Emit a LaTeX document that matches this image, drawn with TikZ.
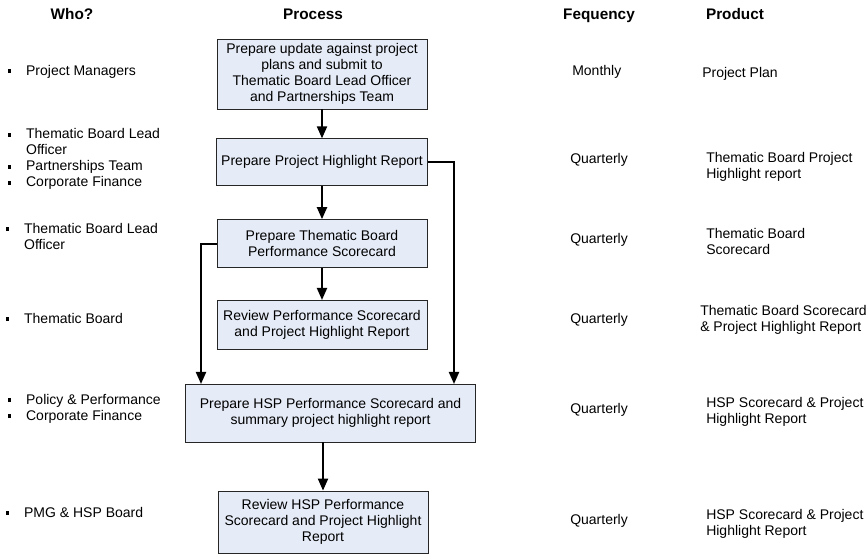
\documentclass[tikz,border=0pt]{standalone}
\usepackage{fontspec}
\setmainfont{Liberation Sans}
\usepackage{tikz}
\usetikzlibrary{arrows.meta,positioning}
\definecolor{boxfill}{RGB}{230,236,247}
\newcommand\blt{\raisebox{1.6pt}{\rule{2.4pt}{2.8pt}}}
\tikzset{
    %Define standard arrow tip
    >={Triangle[length=9pt,width=7.5pt]},
    %Define style for process boxes
    proc/.style={
           rectangle,
           draw=black!85, line width=0.6pt,
           fill=boxfill,
           minimum width=157.5pt,
           align=center,
           font=\fontsize{10.5}{12}\selectfont},
    % Define style for column texts
    hdr/.style={anchor=base, font=\fontsize{11.5}{14}\selectfont\bfseries},
    who/.style={anchor=west, inner sep=0pt, font=\fontsize{10.5}{12}\selectfont},
    freq/.style={anchor=west, inner sep=0pt, font=\fontsize{10.5}{12}\selectfont},
    prod/.style={anchor=west, inner sep=0pt, align=left, font=\fontsize{10.5}{12}\selectfont},
    % Define arrow style
    pil/.style={
           ->,
           line width=1.5pt}
}
\begin{document}
\begin{tikzpicture}[x=0.75pt,y=-0.75pt]
         \useasboundingbox (0,0) rectangle (868,555);
         %headers
          \node[hdr] (hwho) at (72,19.5) {Who?};
          \node[hdr] (hproc) at (313,19.5) {Process};
          \node[hdr] (hfreq) at (599,19.5) {Fequency};
          \node[hdr] (hprod) at (735,19.5) {Product};
         %process boxes
          \node[proc, minimum height=51pt] (update) at (322,74)
          {Prepare update against project\\plans and submit to\\Thematic Board Lead Officer\\and Partnerships Team};
          \node[proc, minimum height=35.25pt, below=21.75pt of update] (highlight)
          {Prepare Project Highlight Report};
          \node[proc, minimum height=36pt, below=24.75pt of highlight] (tbscore)
          {Prepare Thematic Board\\Performance Scorecard};
          \node[proc, minimum height=36.75pt, below=24pt of tbscore] (review)
          {Review Performance Scorecard\\and Project Highlight Report};
          \node[proc, minimum width=218pt, minimum height=43.5pt] (hspscore) at (330.5,413)
          {Prepare HSP Performance Scorecard and\\summary project highlight report};
          \node[proc, minimum height=46.5pt] (hspreview) at (323,522)
          {Review HSP Performance\\Scorecard and Project Highlight\\Report};
         %who
          \node[who] (w1) at (8,72) {\begin{tabular}{@{}l@{\hspace{11pt}}l@{}}\blt & Project Managers\end{tabular}};
          \node[who] (w2) at (8,159.5) {\begin{tabular}{@{}l@{\hspace{11pt}}l@{}}\blt & Thematic Board Lead\\ & Officer\\ \blt & Partnerships Team\\ \blt & Corporate Finance\end{tabular}};
          \node[who] (w3) at (6,238) {\begin{tabular}{@{}l@{\hspace{11pt}}l@{}}\blt & Thematic Board Lead\\ & Officer\end{tabular}};
          \node[who] (w4) at (6,320) {\begin{tabular}{@{}l@{\hspace{11pt}}l@{}}\blt & Thematic Board\end{tabular}};
          \node[who] (w5) at (8,409) {\begin{tabular}{@{}l@{\hspace{11pt}}l@{}}\blt & Policy \& Performance\\ \blt & Corporate Finance\end{tabular}};
          \node[who] (w6) at (6,514) {\begin{tabular}{@{}l@{\hspace{11pt}}l@{}}\blt & PMG \& HSP Board\end{tabular}};
         %frequency
          \node[freq] (f1) at (572,72) {Monthly};
          \node[freq] (f2) at (570,160) {Quarterly};
          \node[freq] (f3) at (570,240) {Quarterly};
          \node[freq] (f4) at (570,320) {Quarterly};
          \node[freq] (f5) at (570,410) {Quarterly};
          \node[freq] (f6) at (570,521) {Quarterly};
         %product
          \node[prod] (p1) at (702,74) {Project Plan};
          \node[prod] (p2) at (706,167) {Thematic Board Project\\Highlight report};
          \node[prod] (p3) at (706,241) {Thematic Board\\Scorecard};
          \node[prod] (p4) at (700,320) {Thematic Board Scorecard\\\& Project Highlight Report};
          \node[prod] (p5) at (706,412) {HSP Scorecard \& Project\\Highlight Report};
          \node[prod] (p6) at (706,524) {HSP Scorecard \& Project\\Highlight Report};
         %arrows
          \coordinate (lfoot) at (201,384);
          \coordinate (rfoot) at (454,384);
          \draw[pil] (update) -- (highlight);
          \draw[pil] (highlight) -- (tbscore);
          \draw[pil] (tbscore) -- (review);
          \draw[pil] (highlight.east) -| (rfoot);
          \draw[pil] (tbscore.west) -| (lfoot);
          \draw[pil] (hspscore.south -| hspreview.north) -- (hspreview.north);
\end{tikzpicture}
\end{document}
